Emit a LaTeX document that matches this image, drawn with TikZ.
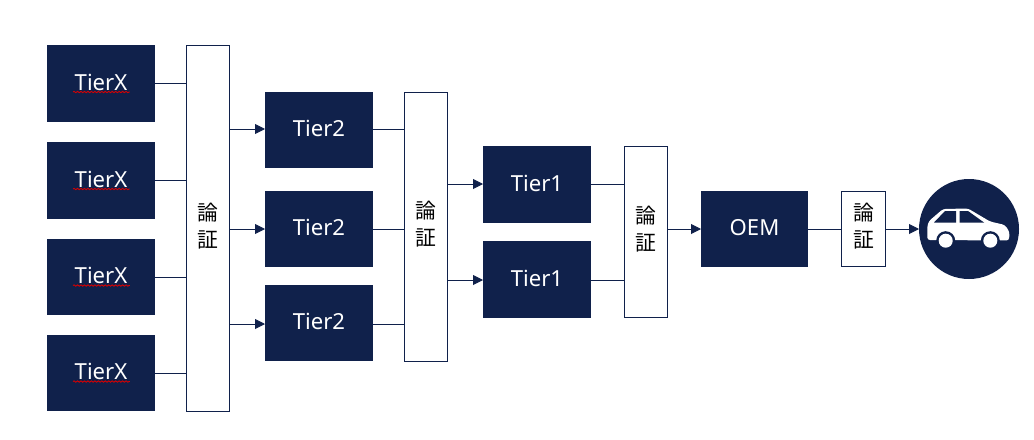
\documentclass[tikz,border=0pt]{standalone}
\usepackage{fontspec}
\setmainfont{Noto Sans}
\newfontfamily\cjkfont{Noto Sans CJK JP}
\usetikzlibrary{arrows.meta,decorations.pathmorphing}
\definecolor{navy}{HTML}{10214B}
\tikzset{
  x=0.75pt,y=-0.75pt,
  tierbox/.style={fill=navy,text=white,minimum width=81pt,anchor=north west,inner sep=0pt,outer sep=0pt,text depth=2pt,font=\fontsize{16.6}{20}\selectfont},
  certbox/.style={draw=navy,line width=0.75pt,fill=white,text=black,minimum width=32.25pt,anchor=north west,inner sep=0pt,outer sep=0pt,align=center,text depth=5.5pt,font=\cjkfont\fontsize{15.6}{20}\selectfont},
  link/.style={draw=navy,line width=0.7pt},
  flow/.style={link,-{Triangle[length=7.5pt,width=7.5pt]}},
  squiggle/.style={draw=red!85!black,line width=0.65pt,decorate,decoration={snake,amplitude=0.5pt,segment length=2.6pt}},
}
\newcommand{\tierlabel}[1]{\draw[squiggle] ([xshift=-21pt,yshift=-6.4pt]#1.center) -- ([xshift=21.6pt,yshift=-6.4pt]#1.center);}
\begin{document}
\begin{tikzpicture}
\useasboundingbox (0,0) rectangle (1034,439);

% first tier column
\node[tierbox,minimum height=57.75pt] (x1) at (47,45) {TierX};
\node[tierbox,minimum height=57.75pt] (x2) at (47,142) {TierX};
\node[tierbox,minimum height=57pt] (x3) at (47,239) {TierX};
\node[tierbox,minimum height=57pt] (x4) at (47,335) {TierX};
\foreach \n in {x1,x2,x3,x4} {\tierlabel{\n}}

% Tier 2, Tier 1, OEM
\node[tierbox,minimum height=57pt] (t21) at (265,92) {Tier2};
\node[tierbox,minimum height=57pt] (t22) at (265,191) {Tier2};
\node[tierbox,minimum height=57pt] (t23) at (265,285) {Tier2};
\node[tierbox,minimum height=57.75pt] (t11) at (483,146) {Tier1};
\node[tierbox,minimum height=57.75pt] (t12) at (483,241) {Tier1};
\node[tierbox,minimum width=80.25pt,minimum height=57pt] (oem) at (701,191) {OEM};

% verification bars
\node[certbox,minimum height=274.75pt] (c1) at (186.5,45.5) {論\\証};
\node[certbox,minimum height=201.75pt] (c2) at (404.5,92.5) {論\\証};
\node[certbox,minimum height=128.25pt] (c3) at (624.5,146.5) {論\\証};
\node[certbox,minimum width=33pt,minimum height=56.25pt] (c4) at (841.5,191.5) {論\\証};

% finished vehicle
\node[circle,fill=navy,minimum size=75pt,inner sep=0pt,outer sep=0pt] (car) at (969,229) {};
\fill[white,rounded corners=2pt]
  (927.3,240) -- (927.3,226) -- (929,221) -- (943,209) -- (968,208.5) -- (990,221.5)
  -- (1005,225) -- (1009.5,232) -- (1009,240.5) -- cycle;
\fill[navy] (934,222.5) -- (945,211) -- (956,211) -- (956,222.5) -- cycle;
\fill[navy] (959.5,211) -- (968,211) -- (984,222.5) -- (959.5,222.5) -- cycle;
\fill[navy] (945.7,240.7) circle (9.5);
\fill[navy] (990.3,240.7) circle (9.5);
\fill[white] (945.7,240.7) circle (7);
\fill[white] (990.3,240.7) circle (7);

% connections
\coordinate (y1) at (0,83);
\coordinate (y2) at (0,180);
\coordinate (y3) at (0,277);
\coordinate (y4) at (0,373);
\draw[link] (x1.east |- y1) -- (c1.west |- y1);
\draw[link] (x2.east |- y2) -- (c1.west |- y2);
\draw[link] (x3.east |- y3) -- (c1.west |- y3);
\draw[link] (x4.east |- y4) -- (c1.west |- y4);

\coordinate (y5) at (0,129);
\coordinate (y6) at (0,229);
\coordinate (y7) at (0,324);
\draw[flow] (c1.east |- y5) -- (t21.west |- y5);
\draw[flow] (c1.east |- y6) -- (t22.west |- y6);
\draw[flow] (c1.east |- y7) -- (t23.west |- y7);
\draw[link] (t21.east |- y5) -- (c2.west |- y5);
\draw[link] (t22.east |- y6) -- (c2.west |- y6);
\draw[link] (t23.east |- y7) -- (c2.west |- y7);

\coordinate (y8) at (0,184);
\coordinate (y9) at (0,280);
\draw[flow] (c2.east |- y8) -- (t11.west |- y8);
\draw[flow] (c2.east |- y9) -- (t12.west |- y9);
\draw[link] (t11.east |- y8) -- (c3.west |- y8);
\draw[link] (t12.east |- y9) -- (c3.west |- y9);

\draw[flow] (c3.east |- y6) -- (oem.west |- y6);
\draw[link] (oem.east |- y6) -- (c4.west |- y6);
\draw[flow] (c4.east |- y6) -- (car.west |- y6);
\end{tikzpicture}
\end{document}
